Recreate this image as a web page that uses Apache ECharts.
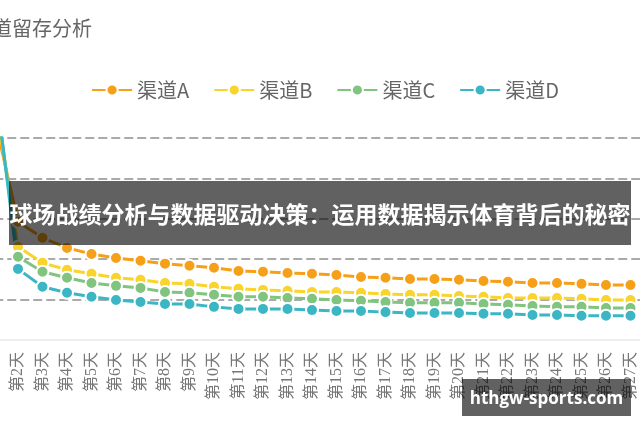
<!DOCTYPE html>
<html>
<head>
<meta charset="utf-8">
<script src="https://cdn.jsdelivr.net/npm/echarts@6/dist/echarts.min.js"></script>
<style>
html,body{margin:0;padding:0;width:640px;height:426px;overflow:hidden;background:#fff;position:relative;}
#chart{position:absolute;left:-40px;top:0;width:730px;height:426px;}
#banner{position:absolute;left:9px;top:181px;width:622px;height:64px;background:rgba(0,0,0,0.62);}
#bannerText{position:absolute;left:0;top:181px;width:640px;height:64px;line-height:64px;text-align:center;color:#fff;font-weight:bold;font-size:23px;font-family:"Noto Sans CJK SC",sans-serif;white-space:nowrap;letter-spacing:0px;}
#wm{position:absolute;left:462px;top:379px;width:169px;height:37px;background:rgba(0,0,0,0.62);color:#fff;font-weight:bold;font-size:17px;line-height:37px;text-align:center;font-family:"Open Sans","DejaVu Sans",sans-serif;}
</style>
</head>
<body>
<div id="chart"></div>
<div id="banner"></div>
<div id="bannerText">球场战绩分析与数据驱动决策：运用数据揭示体育背后的秘密</div>
<div id="wm">hthgw-sports.com</div>
<script>
const titleText = "渠道留存分析";
const seriesNames = ["渠道A", "渠道B", "渠道C", "渠道D"];
const days = ["第1天","第2天","第3天","第4天","第5天","第6天","第7天","第8天","第9天","第10天","第11天","第12天","第13天","第14天","第15天","第16天","第17天","第18天","第19天","第20天","第21天","第22天","第23天","第24天","第25天","第26天","第27天"];
const channelA = [56, 29.3, 25.3, 22.8, 21.3, 20.3, 19.6, 18.9, 18.4, 17.9, 17.1, 16.9, 16.6, 16.4, 16.1, 15.6, 15.4, 15.1, 15.1, 14.9, 14.6, 14.4, 14.1, 14.1, 13.9, 13.6, 13.6];
const channelB = [62, 23.1, 19.1, 17.4, 16.4, 15.4, 14.9, 14.1, 13.9, 13.2, 12.7, 12.4, 12.2, 11.9, 11.9, 11.7, 11.4, 11.2, 11.2, 10.9, 10.7, 10.4, 10.4, 10.4, 10.2, 9.9, 9.9];
const channelC = [65, 20.6, 16.9, 15.4, 14.1, 13.4, 12.9, 11.9, 11.7, 11.2, 10.7, 10.7, 10.4, 10.2, 9.9, 9.7, 9.4, 9.2, 9.2, 9.2, 8.9, 8.7, 8.4, 8.2, 8.2, 7.9, 7.9];
const channelD = [67, 17.6, 13.2, 11.7, 10.7, 9.9, 9.4, 8.9, 8.9, 8.2, 7.7, 7.7, 7.7, 7.4, 7.2, 7.2, 6.9, 6.7, 6.7, 6.7, 6.5, 6.5, 6.2, 6.2, 6.0, 6.0, 6.0];
const colors = ["#f6a019", "#f9d42c", "#80c47f", "#3bb6c4"];
const allData = [channelA, channelB, channelC, channelD];

const chart = echarts.init(document.getElementById('chart'), null, {renderer: 'canvas'});
chart.setOption({
  animation: false,
  color: colors,
  title: {
    text: titleText, left: 7, top: 13,
    textStyle: {fontSize: 20, fontWeight: 'normal', color: '#666', fontFamily: '"Noto Sans CJK SC", sans-serif'}
  },
  legend: {
    data: seriesNames, left: 'center', top: 75,
    itemWidth: 40, itemHeight: 14, itemGap: 24,
    textStyle: {fontSize: 20, color: '#666', fontFamily: '"Noto Sans CJK SC", sans-serif'}
  },
  grid: {left: 21.25, right: 47.25, top: 138, bottom: 86, containLabel: false},
  xAxis: {
    type: 'category', data: days, boundaryGap: true,
    axisLine: {lineStyle: {color: '#eeeeee', width: 2}},
    axisTick: {show: false},
    axisLabel: {rotate: 90, interval: 0, margin: 12, fontSize: 16, color: '#777',
      fontFamily: '"Liberation Serif", "Noto Sans CJK SC", serif'}
  },
  yAxis: {
    type: 'value', min: 0, max: 50, interval: 10,
    axisLine: {show: false}, axisTick: {show: false}, axisLabel: {show: false},
    splitLine: {lineStyle: {color: '#aaaaaa', width: 2, type: [9, 4]}}
  },
  series: seriesNames.map((n, i) => ({
    name: n, type: 'line', data: allData[i],
    symbol: 'circle', symbolSize: 12,
    lineStyle: {width: 3, color: colors[i]},
    itemStyle: {color: colors[i], borderColor: '#fff', borderWidth: 2}
  }))
});
</script>
</body>
</html>
